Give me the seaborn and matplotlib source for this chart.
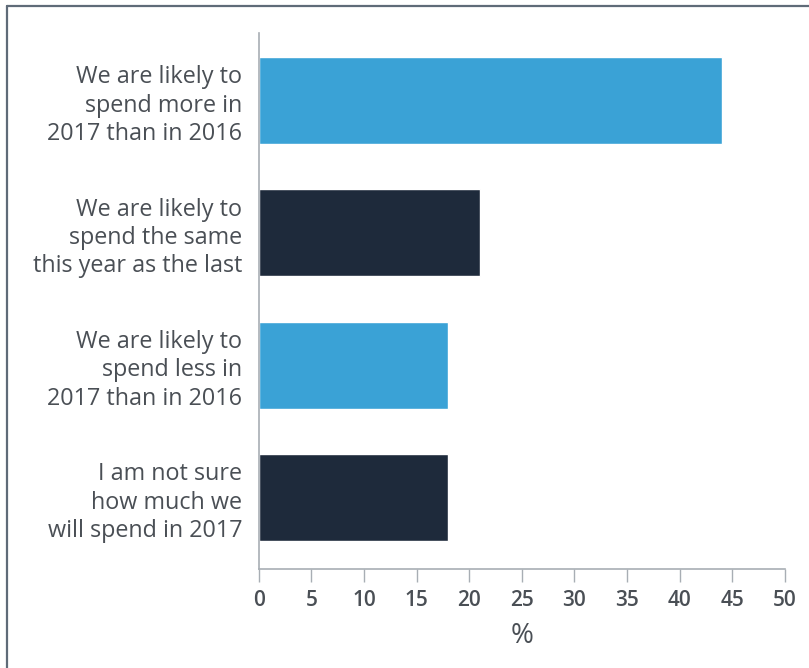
import matplotlib
matplotlib.use("Agg")
import matplotlib.pyplot as plt
from matplotlib.lines import Line2D
import seaborn as sns
import pandas as pd

categories = [
    "We are likely to\nspend more in\n2017 than in 2016",
    "We are likely to\nspend the same\nthis year as the last",
    "We are likely to\nspend less in\n2017 than in 2016",
    "I am not sure\nhow much we\nwill spend in 2017",
]
values = [44, 21, 18, 18]
bar_colors = ["#3aa2d6", "#1e2a3b", "#3aa2d6", "#1e2a3b"]
x_ticks = [0, 5, 10, 15, 20, 25, 30, 35, 40, 45, 50]
x_label = "%"

sns.set_theme(style="white")
plt.rcParams["font.family"] = ["Open Sans", "DejaVu Sans"]

df = pd.DataFrame({"category": categories, "value": values})

fig = plt.figure(figsize=(8.09, 6.68), dpi=100)
ax = fig.add_axes([0.320, 0.1482, 0.650, 0.8024])

sns.barplot(data=df, x="value", y="category", hue="category",
            palette=bar_colors, width=0.655, legend=False, ax=ax,
            saturation=1)

ax.set_xlim(0, 50)
ax.set_ylim(3.54, -0.51)
ax.set_xticks(x_ticks)
ax.set_xticklabels([str(t) for t in x_ticks], fontsize=15,
                   color="#4a4f55", fontweight="semibold")
ax.set_xlabel(x_label, fontsize=20, color="#4a4f55", labelpad=8)
ax.set_ylabel("")
ax.tick_params(axis="y", length=0, pad=12, labelsize=16.8, labelcolor="#4a4f55")
ax.tick_params(axis="x", length=9, width=1, color="#a8aeb4", pad=6, direction="out")
ax.xaxis.set_ticks_position("bottom")
for lbl in ax.get_yticklabels():
    lbl.set_multialignment("right")
    lbl.set_linespacing(1.24)

for side in ["top", "right"]:
    ax.spines[side].set_visible(False)
for side in ["left", "bottom"]:
    ax.spines[side].set_color("#a8aeb4")
    ax.spines[side].set_linewidth(1.2)

# frame around the panel (left and top edges)
fig.add_artist(Line2D([7.5 / 809, 7.5 / 809], [0, 1 - 6 / 668],
                      transform=fig.transFigure, color="#5f6b78", linewidth=1.6))
fig.add_artist(Line2D([7.5 / 809, 1], [1 - 6 / 668, 1 - 6 / 668],
                      transform=fig.transFigure, color="#5f6b78", linewidth=1.6))

fig.savefig("out.png", dpi=100)
